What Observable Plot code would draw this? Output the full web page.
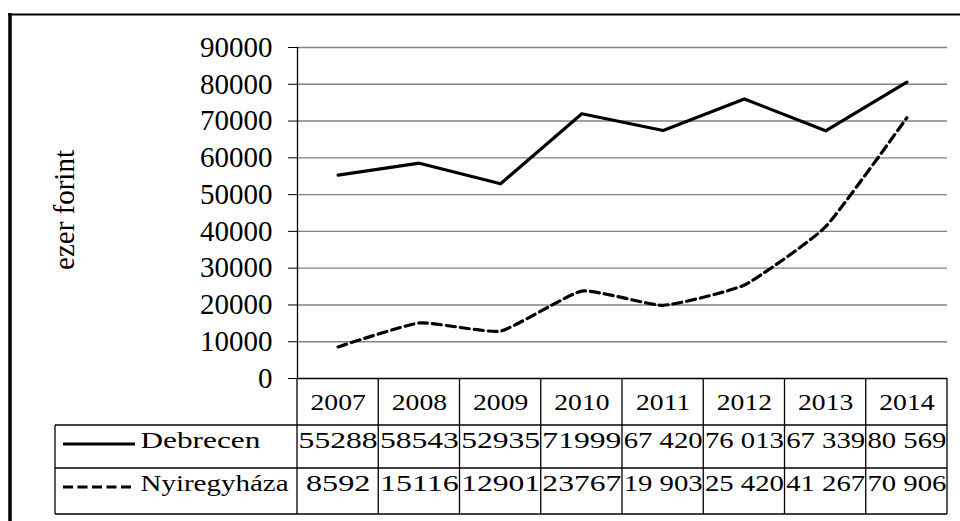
<!DOCTYPE html>
<html><head><meta charset="utf-8">
<script src="https://cdn.jsdelivr.net/npm/d3@7"></script>
<script src="https://cdn.jsdelivr.net/npm/@observablehq/plot@0.6"></script>
<style>html,body{margin:0;padding:0;background:#fff;} svg{display:block} svg text{font-family:"Liberation Serif","Times New Roman",serif !important;}</style>
</head><body><div id="chart"></div>
<script>
const years = [2007, 2008, 2009, 2010, 2011, 2012, 2013, 2014];
const debrecen = [55288, 58543, 52935, 71999, 67420, 76013, 67339, 80569];
const nyiregyhaza = [8592, 15116, 12901, 23767, 19903, 25420, 41267, 70906];
const debrecenText = ["55288", "58543", "52935", "71999", "67 420", "76 013", "67 339", "80 569"];
const nyiregyhazaText = ["8592", "15116", "12901", "23767", "19 903", "25 420", "41 267", "70 906"];
const seriesNames = ["Debrecen", "Nyiregyháza"];
const yTicks = [0, 10000, 20000, 30000, 40000, 50000, 60000, 70000, 80000, 90000];
const yLabel = "ezer forint";

const rows = years.map((year, i) => ({
  year, debrecen: debrecen[i], nyiregyhaza: nyiregyhaza[i],
  dText: debrecenText[i], nText: nyiregyhazaText[i]
}));
const bounds = d3.range(years.length + 1).map(i => years[0] - 0.5 + i);
const serif = "Liberation Serif";

const plot = Plot.plot({
  width: 960, height: 521,
  marginLeft: 297, marginRight: 13, marginTop: 47, marginBottom: 143,
  style: {fontFamily: serif, fontSize: "29px", background: "#fff", color: "#000", overflow: "visible"},
  x: {type: "linear", domain: [bounds[0], bounds[bounds.length - 1]], axis: null},
  y: {domain: [0, 90000], ticks: yTicks, tickSize: 9, tickPadding: 16, tickFormat: d3.format("d"), label: null},
  marks: [
    Plot.ruleY(yTicks.filter(d => d > 0), {stroke: "#828282", strokeWidth: 1.4}),
    Plot.ruleY([0], {stroke: "#000", strokeWidth: 1.3}),
    Plot.ruleX([bounds[0]], {stroke: "#000", strokeWidth: 1.3}),
    Plot.line(rows, {x: "year", y: "debrecen", stroke: "#000", strokeWidth: 3.2}),
    Plot.line(rows, {x: "year", y: "nyiregyhaza", stroke: "#000", strokeWidth: 3.2, strokeDasharray: "9,5", curve: "cardinal", tension: 0.55}),
    Plot.text([yLabel], {text: d => d, frameAnchor: "left", textAnchor: "middle", rotate: -90, dx: -233, dy: -3, fontSize: 29}),
    Plot.text(rows, {x: "year", text: d => String(d.year), frameAnchor: "bottom", dy: 31.6, fontSize: 23}),
    Plot.text(rows, {x: "year", text: "dText", frameAnchor: "bottom", dy: 69.6, fontSize: 23}),
    Plot.text(rows, {x: "year", text: "nText", frameAnchor: "bottom", dy: 112.6, fontSize: 23}),
    Plot.text([seriesNames[0]], {text: d => d, frameAnchor: "bottom-left", textAnchor: "start", dx: -157, dy: 69.6, fontSize: 23}),
    Plot.text([seriesNames[1]], {text: d => d, frameAnchor: "bottom-left", textAnchor: "start", dx: -157, dy: 112.6, fontSize: 23})
  ]
});

document.getElementById("chart").append(plot);

const svg = d3.select(plot);
const sx = plot.scale("x");
const X = v => sx.apply(v);
const frameBottom = 378;

// text mark groups, in mark order: y label, years, Debrecen values, Nyiregyháza values, two names
const textGroups = svg.selectAll('g[aria-label="text"]').nodes();
function stretch(g, f, max) {
  if (!g) return;
  d3.select(g).selectAll("text").each(function () {
    const w = this.getComputedTextLength();
    if (!w) return;
    let t = w * f;
    if (max) t = Math.min(t, max);
    this.setAttribute("textLength", t);
    this.setAttribute("lengthAdjust", "spacingAndGlyphs");
  });
}
stretch(textGroups[1], 1.2);
stretch(textGroups[2], 1.4, 79);
stretch(textGroups[3], 1.4, 79);
stretch(textGroups[4], 1.36);
stretch(textGroups[5], 1.26);

// data table grid
const tg = svg.append("g").attr("stroke", "#000").attr("stroke-width", 1.3).attr("fill", "none");
const rightX = X(bounds[bounds.length - 1]);
[425, 468, 514].forEach(y => tg.append("line").attr("x1", 55).attr("x2", rightX).attr("y1", y).attr("y2", y));
bounds.forEach(b => tg.append("line").attr("x1", X(b)).attr("x2", X(b)).attr("y1", frameBottom).attr("y2", 514));
tg.append("line").attr("x1", 55).attr("x2", 55).attr("y1", 425).attr("y2", 514);

// legend swatches in the table
const lg = svg.append("g").attr("stroke", "#000").attr("stroke-width", 3);
lg.append("line").attr("x1", 63).attr("x2", 135).attr("y1", 444).attr("y2", 444);
lg.append("line").attr("x1", 63).attr("x2", 135).attr("y1", 487).attr("y2", 487).attr("stroke-dasharray", "10,4.5");

// outer frame
const fg = svg.append("g").attr("stroke", "#000");
fg.append("line").attr("x1", 10).attr("x2", 10).attr("y1", 13).attr("y2", 521).attr("stroke-width", 3.5);
fg.append("line").attr("x1", 8).attr("x2", 960).attr("y1", 14.5).attr("y2", 14.5).attr("stroke-width", 2);
</script>
</body></html>
